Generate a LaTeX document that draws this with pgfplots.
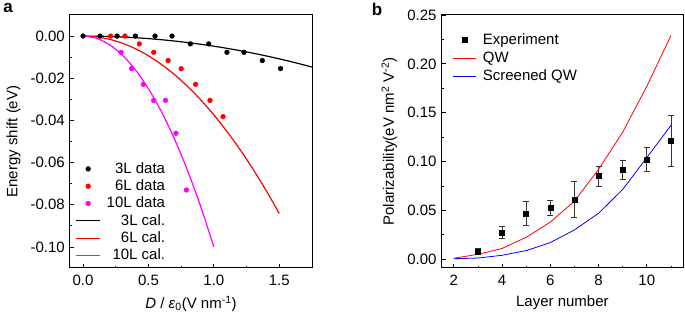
\documentclass[border=0pt]{standalone}
\usepackage{fontspec}
\setmainfont{Liberation Sans}
\usepackage{pgfplots}
\pgfplotsset{compat=1.18}
\definecolor{myred}{RGB}{255,0,0}
\definecolor{mymag}{RGB}{255,0,255}
\definecolor{myblue}{RGB}{0,0,255}
\begin{document}
\fontsize{15}{18}\selectfont
\begin{tikzpicture}
\pgfplotsset{
  every axis/.append style={
    font=\fontsize{15}{18}\selectfont,
    scale only axis,
    axis line style={line width=1pt},
    tick pos=left,
    tick align=inside,
    major tick length=4pt,
    minor tick length=2.2pt,
    every tick/.style={black, line width=0.8pt},
    /pgf/number format/assume math mode=true,
    xticklabel style={yshift=-2pt},
    legend style={draw=none, fill=none, font=\fontsize{15}{18}\selectfont,
      row sep=1.8pt, column sep=4pt, nodes={inner ysep=1.2pt}},
  },
  lineleg/.style={legend image code/.code={\draw[##1] (0cm,0cm) -- (0.84cm,0cm);}},
  markleg/.style={legend image code/.code={\path[draw=none] (0cm,0cm) -- (0.84cm,0cm); \draw[##1, only marks, mark repeat=2, mark phase=2] plot coordinates {(0cm,0cm) (0.42cm,0cm) (0.84cm,0cm)};}},
}
\begin{axis}[
  width=242pt, height=253pt,
  xmin=-0.1, xmax=1.75, ymin=-0.11, ymax=0.01,
  xtick={0,0.5,1,1.5}, minor xtick={0.25,0.75,1.25},
  ytick={-0.1,-0.08,-0.06,-0.04,-0.02,0},
  minor ytick={-0.09,-0.07,-0.05,-0.03,-0.01},
  xticklabel style={/pgf/number format/.cd, fixed, fixed zerofill, precision=1},
  yticklabel style={/pgf/number format/.cd, fixed, fixed zerofill, precision=2},
  xlabel={\textit{D} / \textit{ε}\textsubscript{0}(V nm\textsuperscript{-1})},
  ylabel={Energy shift (eV)},
  legend cell align=right,
  legend style={at={(rel axis cs:0.01,0.01)}, anchor=south west},
]
\addplot[only marks, mark=*, mark size=2.4pt, black, markleg] coordinates {
 (0.00,0) (0.13,0) (0.26,0) (0.40,0) (0.55,0) (0.68,0) (0.82,-0.0037) (0.96,-0.0037)
 (1.10,-0.0077) (1.23,-0.0077) (1.37,-0.0116) (1.51,-0.0154)};
\addlegendentry{3L data}
\addplot[only marks, mark=*, mark size=2.4pt, myred, markleg] coordinates {
 (0.21,0) (0.32,0) (0.43,-0.0037) (0.54,-0.0077) (0.65,-0.0116) (0.75,-0.0155)
 (0.86,-0.0229) (0.97,-0.0305) (1.07,-0.0382)};
\addlegendentry{6L data}
\addplot[only marks, mark=*, mark size=2.4pt, mymag, markleg] coordinates {
 (0.29,-0.0077) (0.37,-0.0154) (0.46,-0.0229) (0.54,-0.0305) (0.63,-0.0305)
 (0.71,-0.0461) (0.79,-0.0730)};
\addlegendentry{10L data}
\addplot[smooth, black, line width=1.2pt, no marks, lineleg] coordinates {
 (0,0) (0.125,-0.000075) (0.25,-0.0003) (0.375,-0.000675) (0.5,-0.0012) (0.625,-0.001875)
 (0.75,-0.0027) (0.875,-0.003675) (1.0,-0.0048) (1.125,-0.006075) (1.25,-0.0075)
 (1.375,-0.009075) (1.5,-0.0108) (1.625,-0.012675) (1.75,-0.0147)};
\addlegendentry{3L cal.}
\addplot[smooth, myred, line width=1.2pt, no marks, lineleg] coordinates {
 (0,0) (0.1,-0.000374) (0.2,-0.001496) (0.3,-0.003366) (0.4,-0.005984) (0.5,-0.00935)
 (0.6,-0.013464) (0.7,-0.018326) (0.8,-0.023936) (0.9,-0.030294) (1.0,-0.0374)
 (1.1,-0.045254) (1.2,-0.053856) (1.3,-0.063206) (1.4,-0.073304) (1.5,-0.08415)};
\addlegendentry{6L cal.}
\addplot[smooth, mymag, line width=1.2pt, no marks, lineleg] coordinates {
 (0,0) (0.1,-0.001) (0.2,-0.004) (0.3,-0.009) (0.4,-0.016) (0.5,-0.025)
 (0.6,-0.036) (0.7,-0.049) (0.8,-0.064) (0.9,-0.081) (1.0,-0.1)};
\addlegendentry{10L cal.}
\end{axis}
\node[font=\fontsize{17}{20}\selectfont\bfseries] at (-62pt,260pt) {a};

\begin{axis}[
  xshift=371.7pt,
  width=241.3pt, height=253pt,
  xmin=1.5, xmax=11.5, ymin=-0.009, ymax=0.25,
  xtick={2,4,6,8,10}, minor xtick={3,5,7,9,11},
  ytick={0,0.05,0.1,0.15,0.2,0.25},
  minor ytick={0.025,0.075,0.125,0.175,0.225},
  yticklabel style={/pgf/number format/.cd, fixed, fixed zerofill, precision=2},
  xlabel={Layer number},
  ylabel={Polarizability(eV nm\textsuperscript{2} V\textsuperscript{-2})},
  legend cell align=left,
  legend style={at={(rel axis cs:0.03,0.94)}, anchor=north west, row sep=2.8pt},
]
\addplot[only marks, mark=square*, mark size=2.5pt, black, markleg,
  error bars/.cd, y dir=both, y explicit,
  error bar style={black!80, line width=0.7pt},
  error mark options={rotate=90, mark size=3pt, black!80, line width=0.7pt}]
 coordinates {
 (3,0.0078) +- (0,0.003)
 (4,0.0276) +- (0,0.006)
 (5,0.047) +- (0,0.012)
 (6,0.0527) +- (0,0.0075)
 (7,0.0612) +- (0,0.018)
 (8,0.085) +- (0,0.010)
 (9,0.0914) +- (0,0.010)
 (10,0.102) +- (0,0.0123)
 (11,0.121) +- (0,0.026)};
\addlegendentry{Experiment}
\addplot[myred, line width=0.8pt, no marks, lineleg] coordinates {
 (2,0.001) (3,0.005) (4,0.011) (5,0.0224) (6,0.038) (7,0.0595) (8,0.092) (9,0.130) (10,0.177) (11,0.229)};
\addlegendentry{QW}
\addplot[myblue, line width=0.8pt, no marks, lineleg] coordinates {
 (2,0.0005) (3,0.0012) (4,0.004) (5,0.0088) (6,0.017) (7,0.030) (8,0.047) (9,0.0714) (10,0.104) (11,0.137)};
\addlegendentry{Screened QW}
\end{axis}
\node[font=\fontsize{17}{20}\selectfont\bfseries] at (307pt,259pt) {b};

\pgfresetboundingbox
\path[use as bounding box] (-70pt,-45pt) rectangle (615pt,268pt);
\end{tikzpicture}
\end{document}
